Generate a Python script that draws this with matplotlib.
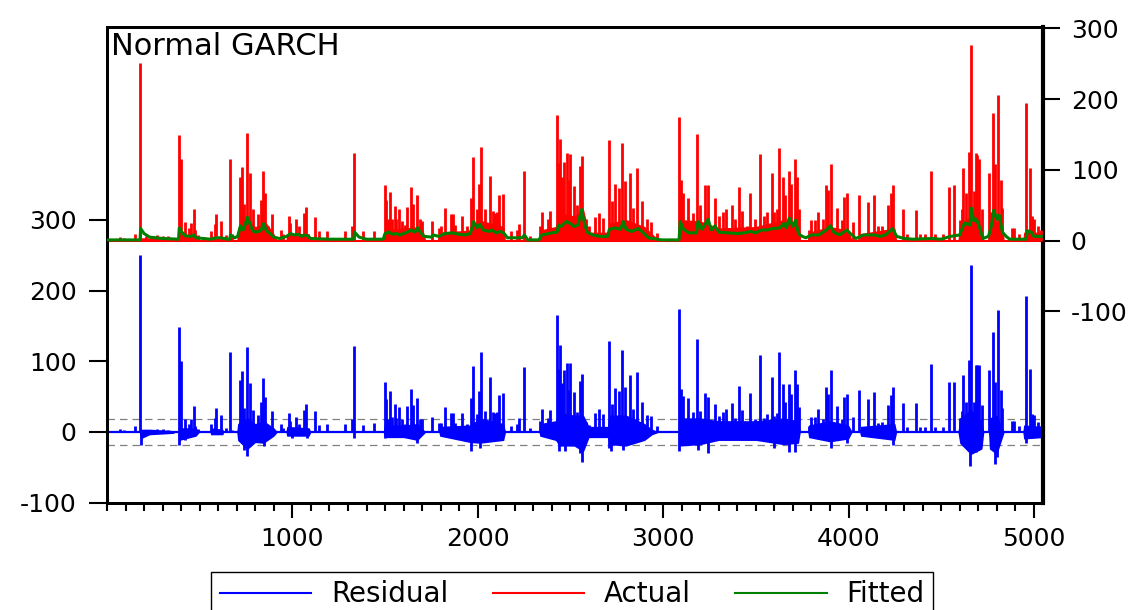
import numpy as np
import matplotlib
matplotlib.use("Agg")
import matplotlib.pyplot as plt
from matplotlib.lines import Line2D
from matplotlib.ticker import MultipleLocator

plt.rcParams["axes.unicode_minus"] = False

# observation number / value of the visible spikes of the actual series
spike_obs = [68, 90, 153, 178, 210, 240, 270, 300, 330,
             386, 397, 419, 440, 455, 467, 475, 490,
             563, 581, 590, 613, 640, 662, 672,
             716, 728, 740, 755, 770, 788, 815, 831, 842, 855, 870, 890,
             938, 950, 982, 990, 1021, 1035, 1061, 1075, 1124, 1145, 1189,
             1286, 1320, 1331, 1381, 1439,
             1498, 1507, 1515, 1529, 1537, 1552, 1560, 1576, 1590, 1605, 1619, 1638, 1650, 1673, 1690, 1700,
             1755, 1790, 1804, 1822, 1854, 1865, 1880, 1915, 1941, 1962, 1975, 1995, 2007, 2018, 2040,
             2065, 2080, 2094, 2105, 2113, 2137, 2181, 2210, 2221, 2248, 2280,
             2337, 2347, 2380, 2392, 2428, 2440, 2446, 2455, 2464, 2482, 2490, 2500, 2518, 2535, 2550, 2565, 2586, 2600,
             2631, 2653, 2676, 2707, 2722, 2743, 2764, 2779, 2794, 2820, 2839, 2860, 2884, 2911, 2934, 2965,
             3086, 3094, 3108, 3135, 3162, 3184, 3198, 3225, 3243, 3279, 3302, 3324, 3338, 3370, 3390,
             3410, 3428, 3450, 3468, 3498, 3520, 3545, 3560, 3588, 3600, 3615, 3624, 3645, 3655, 3678, 3690, 3714, 3720, 3735,
             3788, 3800, 3818, 3837, 3860, 3878, 3891, 3903, 3939, 3963, 3977, 3990, 4026, 4058, 4106, 4137, 4160, 4178,
             4214, 4227, 4241, 4295, 4317, 4364, 4386, 4413, 4445, 4469, 4507,
             4544, 4570, 4601, 4610, 4619, 4633, 4650, 4661, 4675, 4688, 4695, 4705, 4720,
             4758, 4770, 4781, 4790, 4808, 4820, 4830, 4880, 4890, 4920,
             4957, 4979, 4990, 5000, 5020, 5040]
spike_act = [5, 4, 10, 251, 6, 7, 8, 7, 6,
             150, 116, 26, 18, 25, 45, 15, 8,
             13, 23, 38, 28, 8, 115, 10,
             90, 104, 52, 152, 95, 45, 37, 57, 98, 67, 20, 37,
             15, 10, 35, 25, 30, 20, 39, 47, 33, 13, 14,
             13, 20, 124, 14, 14,
             79, 57, 30, 69, 30, 49, 30, 44, 28, 22, 48, 76, 52, 65, 30, 28,
             28, 18, 20, 46, 38, 38, 22, 35, 20, 60, 118, 44, 80, 133, 44,
             92, 42, 39, 40, 64, 66, 13, 15, 24, 99, 6,
             20, 40, 30, 42, 178, 110, 143, 90, 111, 124, 85, 122, 77, 50, 105, 119, 30, 20,
             34, 39, 32, 142, 56, 80, 75, 138, 84, 95, 46, 102, 56, 30, 26, 11,
             175, 86, 68, 60, 39, 151, 51, 78, 79, 60, 35, 40, 44, 51, 30,
             76, 42, 20, 68, 30, 122, 35, 40, 95, 40, 45, 131, 90, 65, 98, 80, 116, 90, 45,
             15, 29, 29, 41, 30, 78, 72, 109, 46, 29, 62, 68, 27, 65, 55, 65, 20, 20,
             50, 67, 79, 45, 10, 43, 10, 10, 99, 10, 10,
             76, 78, 29, 45, 102, 67, 125, 276, 70, 124, 121, 115, 45,
             96, 40, 181, 108, 206, 86, 46, 18, 18, 10,
             195, 102, 35, 30, 20, 15]

# fitted (conditional) series, read at its turning points
fit_obs = [1, 170, 178, 182, 200, 230, 300, 380, 386, 390, 405, 420, 450, 470, 480, 520, 560, 590, 615, 650,
           662, 666, 690, 705, 720, 735, 745, 757, 770, 785, 800, 830, 845, 860, 880, 900, 930, 970, 990,
           1010, 1030, 1050, 1065, 1080, 1100, 1200, 1300, 1331, 1335, 1360, 1400, 1490, 1500, 1520, 1540,
           1560, 1580, 1620, 1640, 1660, 1675, 1690, 1710, 1750, 1760, 1790, 1822, 1860, 1900, 1930, 1960,
           1978, 1995, 2012, 2030, 2060, 2075, 2100, 2120, 2140, 2160, 2240, 2252, 2270, 2330, 2345, 2365,
           2400, 2428, 2435, 2450, 2465, 2480, 2500, 2520, 2540, 2560, 2575, 2590, 2620, 2660, 2700, 2710,
           2740, 2770, 2785, 2800, 2830, 2865, 2890, 2920, 2990, 3086, 3092, 3110, 3140, 3180, 3188, 3210,
           3243, 3260, 3280, 3300, 3350, 3400, 3440, 3470, 3500, 3530, 3560, 3590, 3630, 3650, 3665, 3680,
           3700, 3714, 3730, 3750, 3770, 3800, 3840, 3880, 3903, 3920, 3950, 3992, 4010, 4040, 4080, 4140,
           4170, 4200, 4237, 4260, 4300, 4350, 4450, 4500, 4550, 4600, 4625, 4655, 4663, 4675, 4690, 4705,
           4725, 4755, 4770, 4783, 4800, 4813, 4830, 4850, 4870, 4958, 4965, 4985, 5000, 5049]
fit_val = [1, 1, 1, 17, 10, 5, 3, 2, 2, 18, 12, 7, 6, 8, 4, 3, 2, 4, 4, 2,
           2, 8, 4, 6, 21, 15, 22, 33, 25, 14, 12, 14, 24, 14, 10, 5, 3, 6, 10,
           8, 9, 6, 8, 7, 3, 2, 2, 2, 12, 5, 2, 2, 10, 12, 9,
           10, 8, 12, 15, 12, 18, 12, 6, 5, 8, 6, 10, 11, 9, 8, 10,
           27, 18, 23, 15, 13, 15, 11, 13, 11, 4, 4, 8, 1, 1, 8, 9,
           11, 12, 22, 20, 24, 27, 24, 20, 22, 44, 25, 12, 8, 6, 6, 16,
           18, 16, 27, 16, 13, 17, 12, 4, 1, 1, 27, 16, 11, 11, 27, 16,
           30, 15, 21, 12, 11, 10, 11, 13, 11, 15, 15, 17, 18, 24, 18, 32,
           20, 29, 10, 6, 4, 8, 8, 15, 21, 12, 8, 15, 10, 3, 8, 8,
           6, 8, 17, 6, 3, 2, 3, 2, 6, 8, 25, 22, 46, 28, 30, 20,
           3, 6, 20, 43, 30, 36, 12, 6, 2, 2, 14, 12, 6, 6]

# dense part of the actual series (upper edge of the solid red area)
env_obs = [1, 175, 180, 360, 365, 385, 390, 480, 500, 555, 560, 625, 630, 700, 705, 760, 800, 860, 900, 920,
           965, 970, 1090, 1100, 1490, 1495, 1600, 1700, 1720, 1790, 1795, 1960, 2000, 2140, 2150, 2330,
           2335, 2420, 2440, 2520, 2570, 2600, 2700, 2710, 2800, 2900, 2940, 2980, 3082, 3086, 3200, 3300,
           3500, 3650, 3730, 3740, 3780, 3785, 3900, 4000, 4020, 4060, 4065, 4250, 4260, 4590, 4600, 4700,
           4730, 4755, 4760, 4830, 4840, 4940, 4945, 5049]
env_val = [0, 0, 4, 4, 0, 0, 10, 8, 0, 0, 6, 6, 0, 0, 18, 30, 20, 25, 10, 0,
           0, 10, 10, 0, 0, 15, 18, 20, 0, 0, 12, 15, 30, 20, 0, 0,
           15, 20, 40, 35, 45, 12, 12, 25, 30, 20, 10, 0, 0, 30, 28, 18,
           20, 30, 25, 0, 0, 12, 20, 15, 0, 0, 10, 18, 0, 0, 25, 40,
           0, 0, 30, 25, 0, 0, 12, 12]

# dense part of the residual series (lower / upper edge of the solid blue band)
band_obs = [1, 175, 180, 230, 360, 365, 385, 390, 480, 500, 555, 560, 625, 630, 700, 705, 757, 800, 845, 900,
            920, 965, 970, 1090, 1100, 1490, 1495, 1600, 1675, 1720, 1790, 1795, 1960, 2012, 2140, 2150,
            2330, 2335, 2420, 2440, 2520, 2570, 2600, 2700, 2710, 2800, 2900, 2940, 2980, 3082, 3086, 3200,
            3300, 3500, 3650, 3730, 3740, 3780, 3785, 3900, 4000, 4020, 4060, 4065, 4250, 4260, 4590, 4600,
            4660, 4720, 4730, 4755, 4760, 4800, 4840, 4940, 4945, 5049]
band_lo = [0, 0, -10, -4, -2, 0, 0, -12, -6, 0, 0, -4, -4, 0, 0, -12, -25, -15, -16, -6,
           0, 0, -6, -6, 0, 0, -8, -8, -12, 0, 0, -6, -15, -16, -12, 0,
           0, -6, -12, -20, -20, -28, -8, -8, -18, -20, -12, -4, 0, 0, -20, -18,
           -12, -12, -18, -16, 0, 0, -8, -14, -10, 0, 0, -6, -12, 0, 0, -16,
           -32, -24, 0, 0, -24, -32, 0, 0, -10, -8]
band_hi = [0, 0, 4, 4, 2, 0, 0, 6, 6, 0, 0, 6, 4, 0, 0, 12, 20, 12, 16, 6,
           0, 0, 8, 6, 0, 0, 10, 10, 12, 0, 0, 8, 10, 20, 12, 0,
           0, 12, 16, 28, 24, 24, 8, 8, 24, 24, 12, 4, 0, 0, 20, 20,
           16, 16, 20, 16, 0, 0, 10, 16, 10, 0, 0, 8, 12, 0, 0, 20,
           32, 16, 0, 0, 20, 24, 0, 0, 10, 8]

# negative residual dips
dip_obs = [181, 390, 420, 740, 757, 845, 1000, 1080, 1335, 1500, 1675, 1962, 2012, 2440, 2470, 2550, 2565,
           2710, 2720, 2785, 3086, 3190, 3243, 3600, 3678, 3714, 3903, 3990, 4241, 4655, 4690, 4700,
           4790, 4800, 4960]
dip_val = [-19, -19, -12, -25, -34, -20, -8, -8, -8, -8, -16, -27, -22, -27, -27, -30, -43,
           -22, -27, -25, -27, -25, -30, -22, -29, -29, -22, -15, -19, -48, -29, -25,
           -46, -35, -16]

resid_sd = 18.5

RED = "#FF0000"
BLUE = "#0000FF"
GREEN = "#008000"

fig = plt.figure(figsize=(11.44, 6.10), dpi=100)
ax = fig.add_axes([0.0935, 0.1754, 0.8182, 0.7803])
ax2 = ax.twinx()

# residual (left axis)
spike_fit = np.interp(spike_obs, fit_obs, fit_val)
spike_res = np.array(spike_act) - spike_fit
ax.axhline(0, color=BLUE, lw=1.6, zorder=2)
ax.fill_between(band_obs, band_lo, band_hi, color=BLUE, lw=0, zorder=2)
ax.vlines(spike_obs, 0, spike_res, color=BLUE, lw=2.0, zorder=3)
ax.vlines(dip_obs, 0, dip_val, color=BLUE, lw=2.0, zorder=3)
for v in (resid_sd, -resid_sd):
    ax.axhline(v, color="#808080", lw=0.9, ls=(0, (6, 4)), zorder=1)

# actual and fitted (right axis)
ax2.axhline(0, color=RED, lw=1.5, zorder=2)
ax2.fill_between(env_obs, 0, env_val, color=RED, lw=0, zorder=2)
ax2.vlines(spike_obs, 0, spike_act, color=RED, lw=2.0, zorder=3)
ax2.plot(fit_obs, fit_val, color=GREEN, lw=2.2, zorder=4)

ax.set_xlim(0, 5049)
ax.set_ylim(-100.5, 573)
ax2.set_ylim(-371, 302)

ax.set_yticks([-100, 0, 100, 200, 300])
ax2.set_yticks([-100, 0, 100, 200, 300])
ax.set_xticks([1000, 2000, 3000, 4000, 5000])
ax.xaxis.set_minor_locator(MultipleLocator(100))

ax.tick_params(axis="y", direction="out", length=13, width=1.5, pad=9, labelsize=18)
ax2.tick_params(axis="y", direction="out", length=12, width=1.5, pad=8, labelsize=18)
ax.tick_params(axis="x", which="major", direction="out", length=11, width=1.5, pad=6, labelsize=18)
ax.tick_params(axis="x", which="minor", direction="out", length=6, width=1.5)

for s in ax.spines.values():
    s.set_linewidth(2)
for s in ax2.spines.values():
    s.set_linewidth(2)
ax2.spines["right"].set_linewidth(3)

ax.text(0.004, 0.99, "Normal GARCH", transform=ax.transAxes, ha="left", va="top",
        fontsize=22, zorder=10)

handles = [Line2D([], [], color=BLUE, lw=1.5),
           Line2D([], [], color=RED, lw=1.5),
           Line2D([], [], color=GREEN, lw=1.5)]
fig.legend(handles, ["Residual", "Actual", "Fitted"], loc="upper center",
           bbox_to_anchor=(0.5, 1 - 572 / 610), ncol=3, fontsize=20, frameon=True,
           fancybox=False, edgecolor="black", framealpha=1, handlelength=3.3,
           handletextpad=0.7, columnspacing=1.6, borderpad=0.3, borderaxespad=0)

fig.savefig("out.png", dpi=100)
